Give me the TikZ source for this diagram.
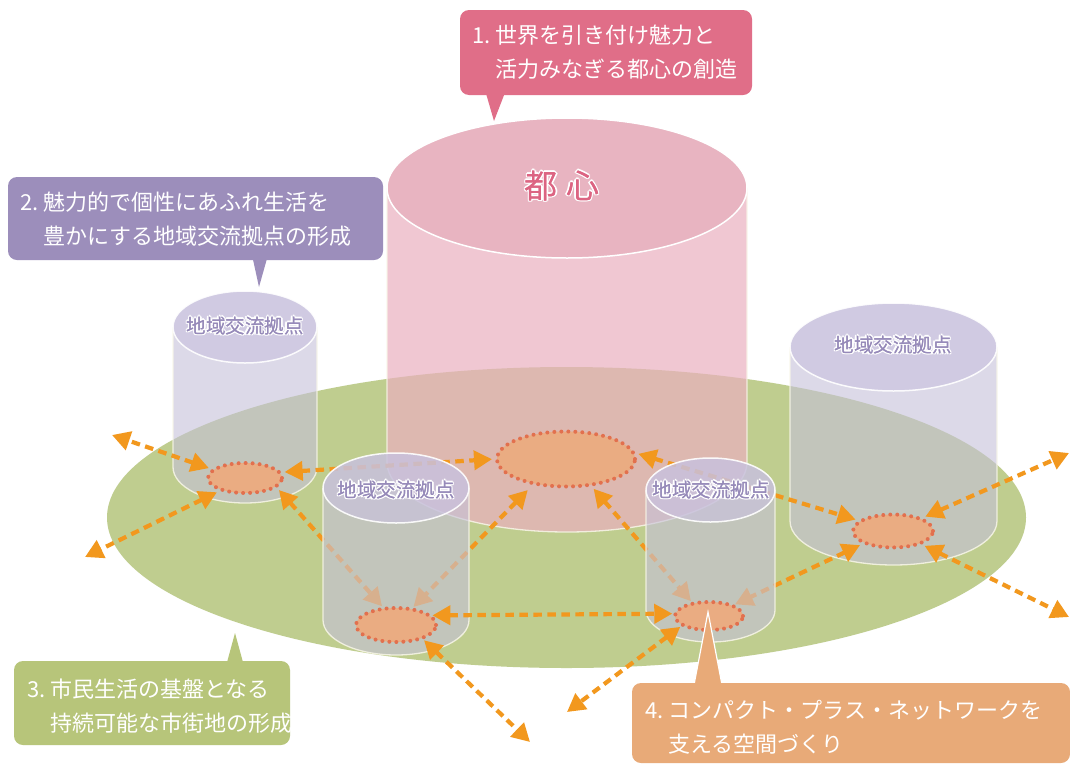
\documentclass[tikz,border=0pt]{standalone}
\usepackage{fontspec}
\setmainfont{Noto Sans CJK JP}
\usetikzlibrary{arrows.meta,shapes.geometric}

\definecolor{groundc}{RGB}{191,205,143}
\definecolor{lavb}{RGB}{197,193,217}
\definecolor{lavt}{RGB}{200,193,221}
\definecolor{pinkb}{RGB}{234,176,191}
\definecolor{pinkt}{RGB}{232,180,193}
\definecolor{edgec}{RGB}{248,246,232}
\definecolor{hubfill}{RGB}{234,172,130}
\definecolor{hubdot}{RGB}{226,112,78}
\definecolor{arrc}{RGB}{242,152,30}
\definecolor{conecol}{RGB}{224,110,136}
\definecolor{ctwocol}{RGB}{156,142,187}
\definecolor{cthreecol}{RGB}{183,197,122}
\definecolor{cfourcol}{RGB}{232,170,120}
\definecolor{labcol}{RGB}{150,138,185}
\definecolor{toshincol}{RGB}{220,100,130}

\newcommand\hcopy[3]{\makebox[0pt][l]{\hspace*{#1}\raisebox{#2}{\color{white}#3}}}
\newcommand\halotext[2]{\hcopy{1.5pt}{0pt}{#2}\hcopy{-1.5pt}{0pt}{#2}\hcopy{0pt}{1.5pt}{#2}\hcopy{0pt}{-1.5pt}{#2}\hcopy{1.1pt}{1.1pt}{#2}\hcopy{-1.1pt}{1.1pt}{#2}\hcopy{1.1pt}{-1.1pt}{#2}\hcopy{-1.1pt}{-1.1pt}{#2}\makebox[0pt][l]{\hspace*{0.3pt}\color{#1}#2}{\color{#1}#2}}

\newcommand\cylinder[7]{%
  \path[#6] (#1-#2,#3) -- (#1-#2,#4) arc[start angle=180,end angle=360,x radius=#2pt,y radius=#5pt] -- (#1+#2,#3) arc[start angle=0,end angle=-180,x radius=#2pt,y radius=#5pt] -- cycle;
  \draw[cyledge] (#1-#2,#3) -- (#1-#2,#4) arc[start angle=180,end angle=360,x radius=#2pt,y radius=#5pt] -- (#1+#2,#3);
  \path[#7] (#1,#3) ellipse[x radius=#2pt,y radius=#5pt];}

\begin{document}
\begin{tikzpicture}[x=1pt,y=-1pt,
  lavbody/.style={fill=lavb, fill opacity=0.6},
  lavtop/.style={fill=lavt, fill opacity=0.85, draw=white, line width=1.5pt, draw opacity=0.9},
  pinkbody/.style={fill=pinkb, fill opacity=0.7},
  pinktop/.style={fill=pinkt, draw=white, line width=1.5pt},
  cyledge/.style={draw=edgec, line width=1.3pt, draw opacity=0.85},
  hub/.style={ellipse, draw=hubdot, fill=hubfill, line width=4pt, dash pattern=on 0pt off 7pt, line cap=round, inner sep=0pt},
  arr/.style={draw=arrc, line width=4.2pt, dash pattern=on 8.5pt off 5.5pt, {Triangle[length=18pt,width=19pt]}-{Triangle[length=18pt,width=19pt]}, shorten <=3pt, shorten >=3pt},
  cbox/.style={rectangle, rounded corners=9pt, inner sep=0pt},
  ctext/.style={anchor=west, inner sep=0pt, align=left, text=white, font=\fontsize{22}{34}\selectfont},
  hublabel/.style={inner sep=0pt, font=\fontsize{19.5}{22}\selectfont}
]
\useasboundingbox (0,0) rectangle (1070,763);
\fill[white] (0,0) rectangle (1070,763);

% ground
\fill[groundc] (566.5,517.5) ellipse[x radius=459.5pt, y radius=150.5pt];

% back cylinders
\cylinder{245}{72}{327}{467}{36}{lavbody}{lavtop}
\cylinder{567}{180}{188}{462}{70}{pinkbody}{pinktop}
\cylinder{893.5}{103.5}{347}{521}{44}{lavbody}{lavtop}

% hubs (back)
\node[hub, minimum width=74pt, minimum height=30pt] (A) at (245,478) {};
\node[hub, minimum width=138pt, minimum height=55pt] (M) at (566,459) {};
\node[hub, minimum width=80pt, minimum height=33pt] (E) at (893,531) {};

% hub positions for front hubs (drawn later)
\coordinate (Cc) at (396,625);
\coordinate (Dc) at (709,616);
\node[ellipse, minimum width=80pt, minimum height=34pt, inner sep=0pt] (C) at (Cc) {};
\node[ellipse, minimum width=68pt, minimum height=28pt, inner sep=0pt] (D) at (Dc) {};

% free ends
\coordinate (oL1) at (112,435);
\coordinate (oL2) at (85,557);
\coordinate (oR1) at (1069,453);
\coordinate (oR2) at (1069,617);
\coordinate (oB1) at (530,742);
\coordinate (oB2) at (567,712);

% arrows behind front cylinders
\draw[arr, shorten >=0pt] (A.165) -- (oL1);
\draw[arr, shorten >=0pt] (A.207) -- (oL2);
\draw[arr] (A.9) -- (M.180);
\draw[arr] (A.-17) -- (C.126);
\draw[arr, shorten <=7pt] (M.218) -- (C.46);
\draw[arr] (M.-47) -- (D.142);
\draw[arr] (M.5) -- (E.163);
\draw[arr, shorten >=0pt] (E.24) -- (oR1);
\draw[arr, shorten >=0pt] (E.-25) -- (oR2);
\draw[arr] (E.203) -- (D.24);

% front cylinders
\cylinder{396}{73}{488}{620}{35}{lavbody}{lavtop}
\cylinder{710.5}{64.5}{490}{610}{32}{lavbody}{lavtop}

% front hubs
\node[hub, minimum width=80pt, minimum height=34pt] (Ch) at (Cc) {};
\node[hub, minimum width=68pt, minimum height=28pt] (Dh) at (Dc) {};

% arrows in front
\draw[arr] (C.16) -- (D.176);
\draw[arr, shorten >=0pt] (C.-27) -- (oB1);
\draw[arr, shorten >=0pt] (D.199) -- (oB2);

% labels
\node[inner sep=0pt, font=\fontsize{33}{35}\selectfont] (toshin) at (562,186) {\halotext{toshincol}{都\hspace{9pt}心}};
\node[hublabel] (lb1) at (245,326) {\halotext{labcol}{地域交流拠点}};
\node[hublabel] (lb2) at (396,490) {\halotext{labcol}{地域交流拠点}};
\node[hublabel] (lb3) at (711,490) {\halotext{labcol}{地域交流拠点}};
\node[hublabel] (lb4) at (893,345) {\halotext{labcol}{地域交流拠点}};

% callout 1
\fill[conecol] (485,90) -- (494,121) -- (506,90) -- cycle;
\node[cbox, fill=conecol, minimum width=292pt, minimum height=85pt] (k1box) at (606,52.5) {};
\node[ctext] (k1) at (472,52.5) {1.\ 世界を引き付け魅力と\\\hphantom{1.\ }活力みなぎる都心の創造};

% callout 2
\fill[ctwocol] (252,255) -- (259,287) -- (268,255) -- cycle;
\node[cbox, fill=ctwocol, minimum width=375pt, minimum height=83pt] (k2box) at (195.5,218.5) {};
\node[ctext] (k2) at (20,219.5) {2.\ 魅力的で個性にあふれ生活を\\\hphantom{2.\ }豊かにする地域交流拠点の形成};

% callout 3
\fill[cthreecol] (226,666) -- (235,633) -- (244,666) -- cycle;
\node[cbox, fill=cthreecol, minimum width=276pt, minimum height=84pt] (k3box) at (152,703) {};
\node[ctext] (k3) at (27,706) {3.\ 市民生活の基盤となる\\\hphantom{3.\ }持続可能な市街地の形成};

% callout 4
\filldraw[fill=cfourcol, draw=white, line width=1.2pt] (693,690) -- (708,612) -- (723,690);
\node[cbox, fill=cfourcol, minimum width=438pt, minimum height=80pt] (k4box) at (851,723) {};
\node[ctext] (k4) at (645,727) {4.\ コンパクト・プラス・ネットワークを\\\hphantom{4.\ }支える空間づくり};
\end{tikzpicture}
\end{document}
